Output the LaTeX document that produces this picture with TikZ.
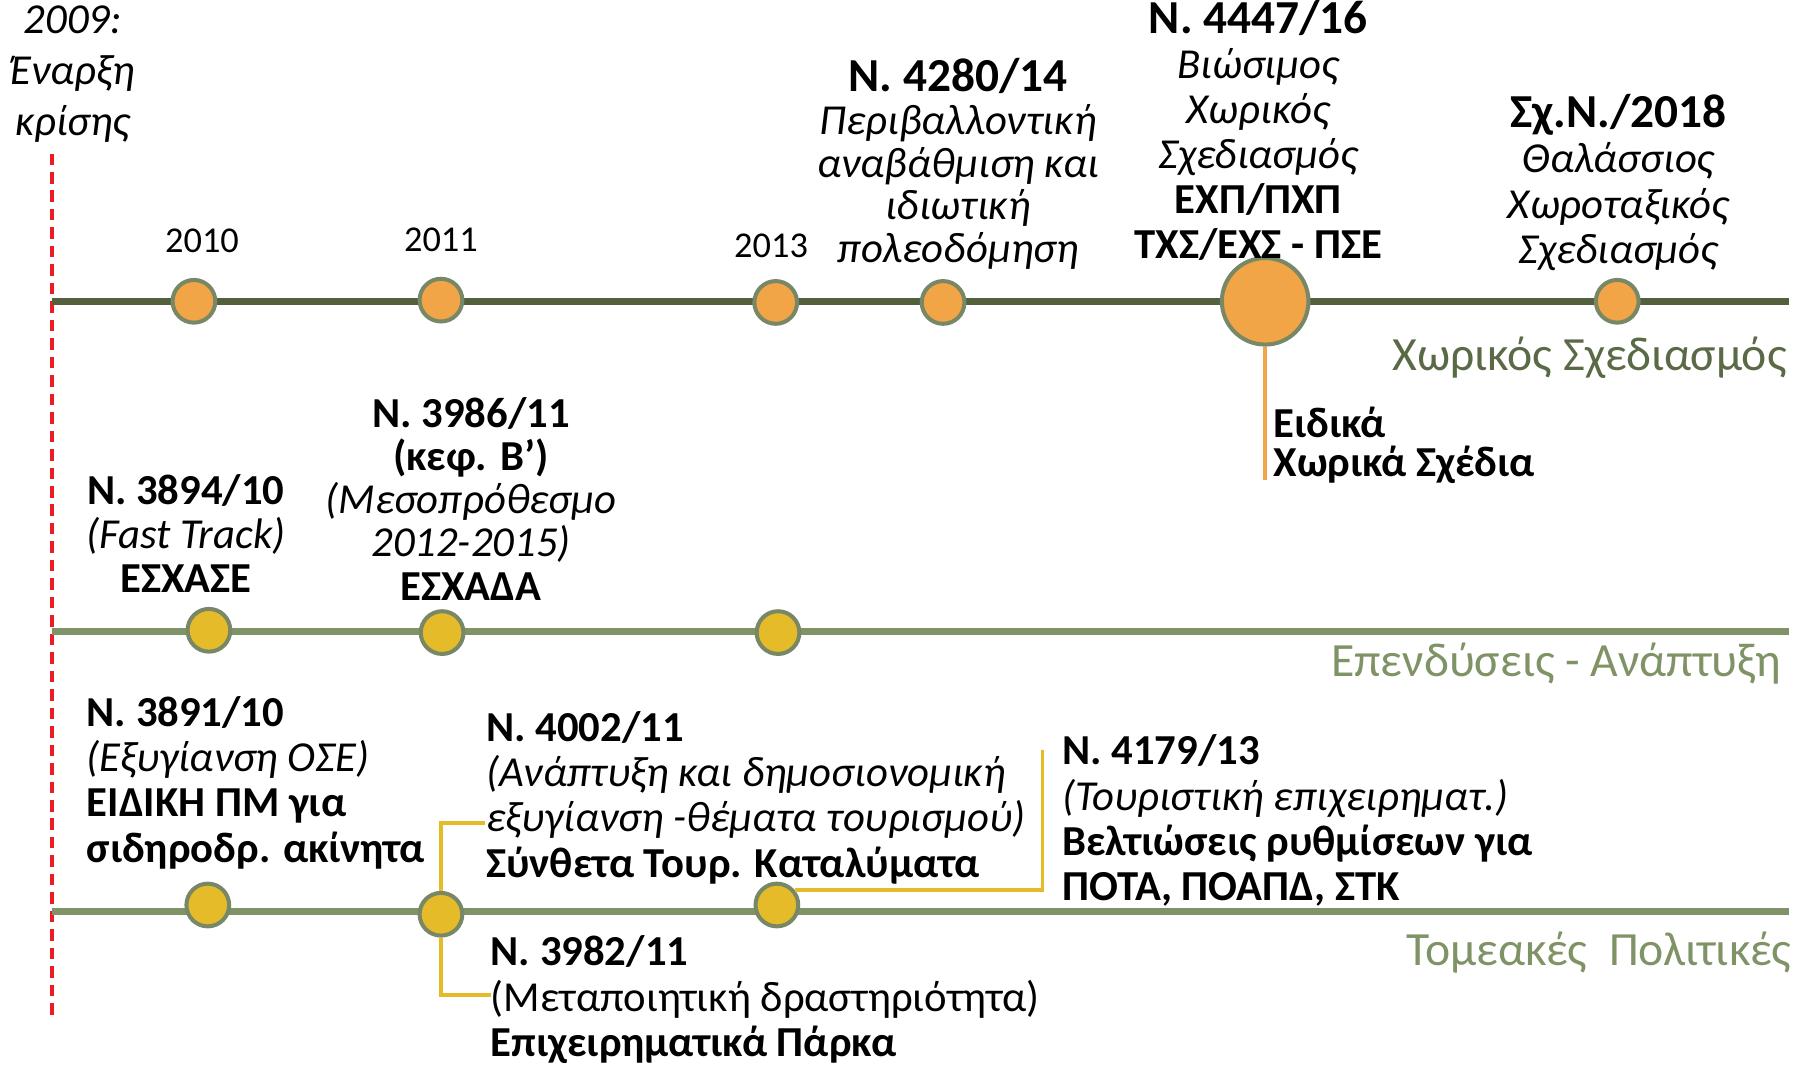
\documentclass[tikz,border=0pt]{standalone}
\usepackage{fontspec}
\setmainfont{Carlito}
\definecolor{darkolive}{RGB}{82,96,62}
\definecolor{lightolive}{RGB}{128,147,102}
\definecolor{ringc}{RGB}{120,136,102}
\definecolor{orangef}{RGB}{242,165,70}
\definecolor{yellowf}{RGB}{229,187,42}
\definecolor{labelolive}{RGB}{90,106,70}
\definecolor{redd}{RGB}{236,28,36}
\newcommand\Hd[1]{{\fontsize{41}{38}\selectfont\bfseries #1}}
\newcommand\Hb[1]{{\fontsize{37}{38}\selectfont\bfseries #1}}
\newcommand\It[1]{{\fontsize{37}{38}\selectfont\itshape #1}}
\newcommand\Rg[1]{{\fontsize{37}{38}\selectfont #1}}
\begin{document}
\begin{tikzpicture}[x=1pt,y=-1pt,
  dot/.style={circle,draw=ringc,line width=3.5pt,minimum size=37pt,inner sep=0pt},
  odot/.style={dot,fill=orangef},
  ydot/.style={dot,fill=yellowf},
  track/.style={line width=6pt},
  ctxt/.style={inner sep=0pt,align=center},
  ltxt/.style={inner sep=0pt,align=left,anchor=west},
  year/.style={inner sep=0pt,font=\fontsize{31.5}{34}\selectfont},
  tracklbl/.style={inner sep=0pt,anchor=east,font=\fontsize{41.3}{42}\selectfont},
  yconn/.style={draw=yellowf,line width=3pt},
  oconn/.style={draw=orangef,line width=3pt}
]
\useasboundingbox (0,0) rectangle (1568,922);
% crisis line
\coordinate (rtop) at (45,133);
\coordinate (rbot) at (45,885);
\draw[redd,line width=3pt,dash pattern=on 10pt off 6pt] (rtop) -- (rbot);
% tracks
\coordinate (t1s) at (45,261); \coordinate (t1e) at (1550,261);
\coordinate (t2s) at (45,547); \coordinate (t2e) at (1550,547);
\coordinate (t3s) at (45,790); \coordinate (t3e) at (1550,790);
\draw[track,darkolive] (t1s) -- (t1e);
\draw[track,lightolive] (t2s) -- (t2e);
\draw[track,lightolive] (t3s) -- (t3e);
% top circles
\node[odot] (a10) at (168,261) {};
\node[odot] (a11) at (382,260) {};
\node[odot] (a13) at (672,262) {};
\node[odot] (a14) at (817,262) {};
\node[odot,minimum size=75pt] (a16) at (1096,261) {};
\node[odot] (a18) at (1401,261) {};
% middle circles
\node[ydot] (b10) at (181,546) {};
\node[ydot] (b11) at (383,548) {};
\node[ydot] (b13) at (674,548) {};
% bottom circles
\node[ydot] (c10) at (180,784) {};
\node[ydot] (c11) at (382,792) {};
\node[ydot] (c13) at (673,784) {};
% connectors
\coordinate (eidend) at (1096,416);
\draw[oconn] (a16.south) -- (eidend);
\coordinate (k1) at (420,713);
\coordinate (k4) at (425,862);
\draw[yconn] (k1) -| (c11.north);
\draw[yconn] (c11.south) |- (k4);
\coordinate (k6) at (903,650);
\draw[yconn] (c13.40) -| (k6);
% year labels
\node[year] (y10) at (175,209) {2010};
\node[year] (y11) at (382,208) {2011};
\node[year] (y13) at (668,213) {2013};
% texts top
\node[ctxt,font=\fontsize{34}{44}\selectfont] (crisis) at (63,64) {\It{2009:}\\ \It{Έναρξη}\\ \It{κρίσης}};
\node[ctxt,font=\fontsize{34}{37}\selectfont] (n4280) at (830,142) {\Hd{N. 4280/14}\\ \It{Περιβαλλοντική}\\ \It{αναβάθμιση και}\\ \It{ιδιωτική}\\ \It{πολεοδόμηση}};
\node[ctxt,font=\fontsize{34}{39}\selectfont] (n4447) at (1090,113) {\Hd{N. 4447/16}\\ \It{Βιώσιμος}\\ \It{Χωρικός}\\ \It{Σχεδιασμός}\\ \Hb{ΕΧΠ/ΠΧΠ}\\ \Hb{ΤΧΣ/ΕΧΣ - ΠΣΕ}};
\node[ctxt,font=\fontsize{34}{39.5}\selectfont] (n2018) at (1402,158) {\Hd{Σχ.Ν./2018}\\ \It{Θαλάσσιος}\\ \It{Χωροταξικός}\\ \It{Σχεδιασμός}};
\node[ltxt,font=\fontsize{34}{34}\selectfont] (eidika) at (1103,386) {\Hb{Ειδικά}\\ \Hb{Χωρικά Σχέδια}};
% texts middle
\node[ctxt,font=\fontsize{34}{38}\selectfont] (n3894) at (161,462) {\Hb{N. 3894/10}\\ \It{(Fast Track)}\\ \Hb{ΕΣΧΑΣΕ}};
\node[ctxt,font=\fontsize{34}{37.5}\selectfont] (n3986) at (408,432) {\Hb{N. 3986/11}\\ \Hb{(κεφ. Β’)}\\ \It{(Μεσοπρόθεσμο}\\ \It{2012-2015)}\\ \Hb{ΕΣΧΑΔΑ}};
% texts bottom
\node[ltxt,font=\fontsize{34}{39.3}\selectfont] (n3891) at (75,678) {\Hb{N. 3891/10}\\ \It{(Εξυγίανση ΟΣΕ)}\\ \Hb{ΕΙΔΙΚΗ ΠΜ για}\\ \Hb{σιδηροδρ. ακίνητα}};
\node[ltxt,font=\fontsize{34}{39.3}\selectfont] (n4002) at (421,691) {\Hb{N. 4002/11}\\ \It{(Ανάπτυξη και δημοσιονομική}\\ \It{εξυγίανση -θέματα τουρισμού)}\\ \Hb{Σύνθετα Τουρ. Καταλύματα}};
\node[ltxt,font=\fontsize{34}{39.3}\selectfont] (n4179) at (920,711) {\Hb{N. 4179/13}\\ \It{(Τουριστική επιχειρηματ.)}\\ \Hb{Βελτιώσεις ρυθμίσεων για}\\ \Hb{ΠΟΤΑ, ΠΟΑΠΔ, ΣΤΚ}};
\node[ltxt,font=\fontsize{34}{39.5}\selectfont] (n3982) at (425,866) {\Hb{N. 3982/11}\\ \Rg{(Μεταποιητική δραστηριότητα)}\\ \Hb{Επιχειρηματικά Πάρκα}};
% track labels
\node[tracklbl,text=labelolive] (l1) at (1548,310) {Χωρικός Σχεδιασμός};
\node[tracklbl,text=lightolive] (l2) at (1543,575) {Επενδύσεις - Ανάπτυξη};
\node[tracklbl,text=lightolive] (l3) at (1552,825) {Τομεακές\ \ Πολιτικές};
\end{tikzpicture}
\end{document}
